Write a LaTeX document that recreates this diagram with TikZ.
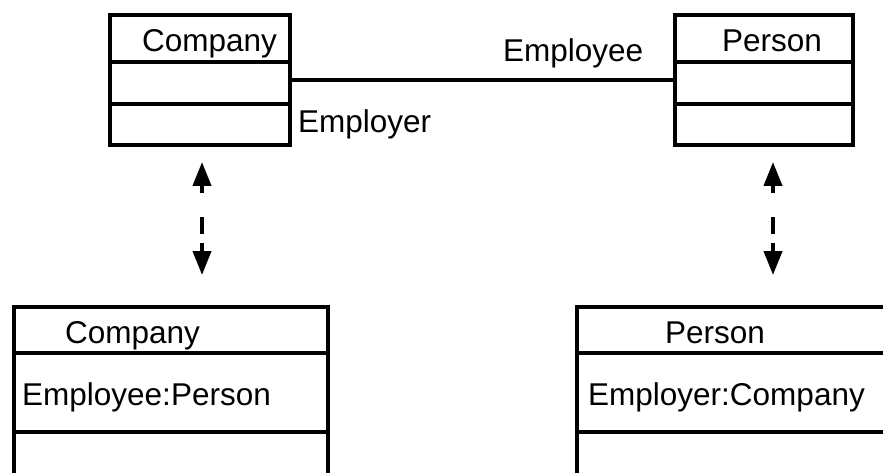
\documentclass[tikz,border=0pt]{standalone}
\usepackage{fontspec}
\setmainfont{Liberation Sans}
\usetikzlibrary{positioning,arrows.meta}

\tikzset{
	compartment/.style={draw, rectangle, line width=4.5pt, inner sep=0pt, outer sep=0pt, minimum width=#1},
	umltext/.style={anchor=base west, inner sep=0pt, font=\fontsize{31.5}{36}\selectfont},
	assoc/.style={line width=3.5pt},
	trace/.style={line width=4pt, {Triangle[length=24pt,width=18pt]}-{Triangle[length=24pt,width=18pt]},
		dash pattern=on 8pt off 24pt on 17pt off 9pt on 40pt},
}

\begin{document}
\begin{tikzpicture}[x=1pt,y=-1pt]
		\clip (0,0) rectangle (883,473);
		%
		% class diagram
		\node[compartment=180, minimum height=47] (coA-name) at (200,38.5) {};
		\node[compartment=180, minimum height=42, below=0pt of coA-name] (coA-attr) {};
		\node[compartment=180, minimum height=41, below=0pt of coA-attr] (coA-op) {};
		\node[umltext] (coA-title) at (142,52) {Company};
		%
		\node[compartment=178, minimum height=47] (peA-name) at (764,38.5) {};
		\node[compartment=178, minimum height=42, below=0pt of peA-name] (peA-attr) {};
		\node[compartment=178, minimum height=41, below=0pt of peA-attr] (peA-op) {};
		\node[umltext] (peA-title) at (722,52) {Person};
		%
		\draw[assoc] ([yshift=3pt]coA-attr.east) -- ([yshift=3pt]peA-attr.west);
		\node[umltext] (role-ee) at (503,62) {Employee};
		\node[umltext] (role-er) at (298,133) {Employer};
		%
		% implementation classes
		\node[compartment=314, minimum height=46] (coB-name) at (171,330) {};
		\node[compartment=314, minimum height=79, below=0pt of coB-name] (coB-attr) {};
		\node[compartment=314, minimum height=80, below=0pt of coB-attr] (coB-op) {};
		\node[umltext] (coB-title) at (65,343) {Company};
		\node[umltext] (coB-field) at (22,405) {Employee:Person};
		%
		\node[compartment=383, minimum height=46] (peB-name) at (768.5,330) {};
		\node[compartment=383, minimum height=79, below=0pt of peB-name] (peB-attr) {};
		\node[compartment=383, minimum height=80, below=0pt of peB-attr] (peB-op) {};
		\node[umltext] (peB-title) at (665,343) {Person};
		\node[umltext] (peB-field) at (588,405) {Employer:Company};
		%
		% mapping arrows
		\coordinate (trA-top) at (202,162);
		\coordinate (trA-bot) at (202,275);
		\coordinate (trB-top) at (773,162);
		\coordinate (trB-bot) at (773,275);
		\draw[trace] (trA-top) -- (trA-bot);
		\draw[trace] (trB-top) -- (trB-bot);
	\end{tikzpicture}
\end{document}
